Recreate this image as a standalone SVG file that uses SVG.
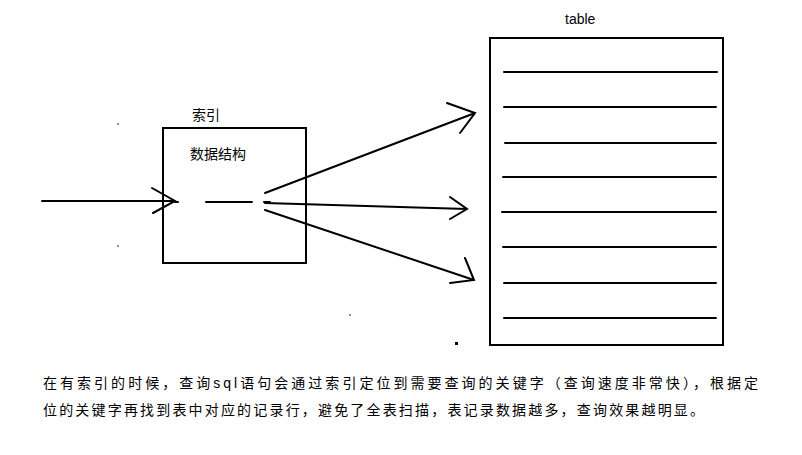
<svg xmlns="http://www.w3.org/2000/svg" width="802" height="455" viewBox="0 0 802 455">
<style>
.s{stroke:#000;stroke-width:2;fill:none;stroke-linecap:round}
.t{font-family:"Liberation Sans","Noto Sans CJK SC",sans-serif;font-size:14px;fill:#000}
</style>
<rect width="802" height="455" fill="#fff"/>
<g id="index">
<rect x="163" y="128" width="143" height="135" class="s"/>
<text x="192" y="120" class="t">索引</text>
<text x="190" y="159" class="t">数据结构</text>
<path d="M175 202H178M206 202H252M264 202H270" class="s"/>
</g>
<g id="table">
<rect x="490" y="38" width="233" height="307" class="s"/>
<text x="565" y="24" class="t">table</text>
<path d="M504 72H717M504 107H716M505 143H716M503 177H716M502 212H716M503 247H716M504 283H716M504 318H716" class="s"/>
</g>
<g id="connectors">
<path d="M42 201H175M152 188L175 201L153 213" class="s"/>
<path d="M265 193L475 113M447 103L475 113L460 133" class="s"/>
<path d="M265 203L467 209M450 197L467 209L450 219" class="s"/>
<path d="M265 210L474 280M465 258L474 280L450 283" class="s"/>
</g>
<g id="dots" fill="#000">
<circle cx="118" cy="124" r="0.8"/><circle cx="118" cy="246" r="0.8"/><circle cx="350" cy="315" r="0.8"/><rect x="455" y="342" width="3" height="3"/>
</g>
<text x="43" y="388" class="t" textLength="715" lengthAdjust="spacing">在有索引的时候，查询sql语句会通过索引定位到需要查询的关键字（查询速度非常快），根据定</text>
<text x="43" y="415" class="t" textLength="661" lengthAdjust="spacing">位的关键字再找到表中对应的记录行，避免了全表扫描，表记录数据越多，查询效果越明显。</text>
</svg>
